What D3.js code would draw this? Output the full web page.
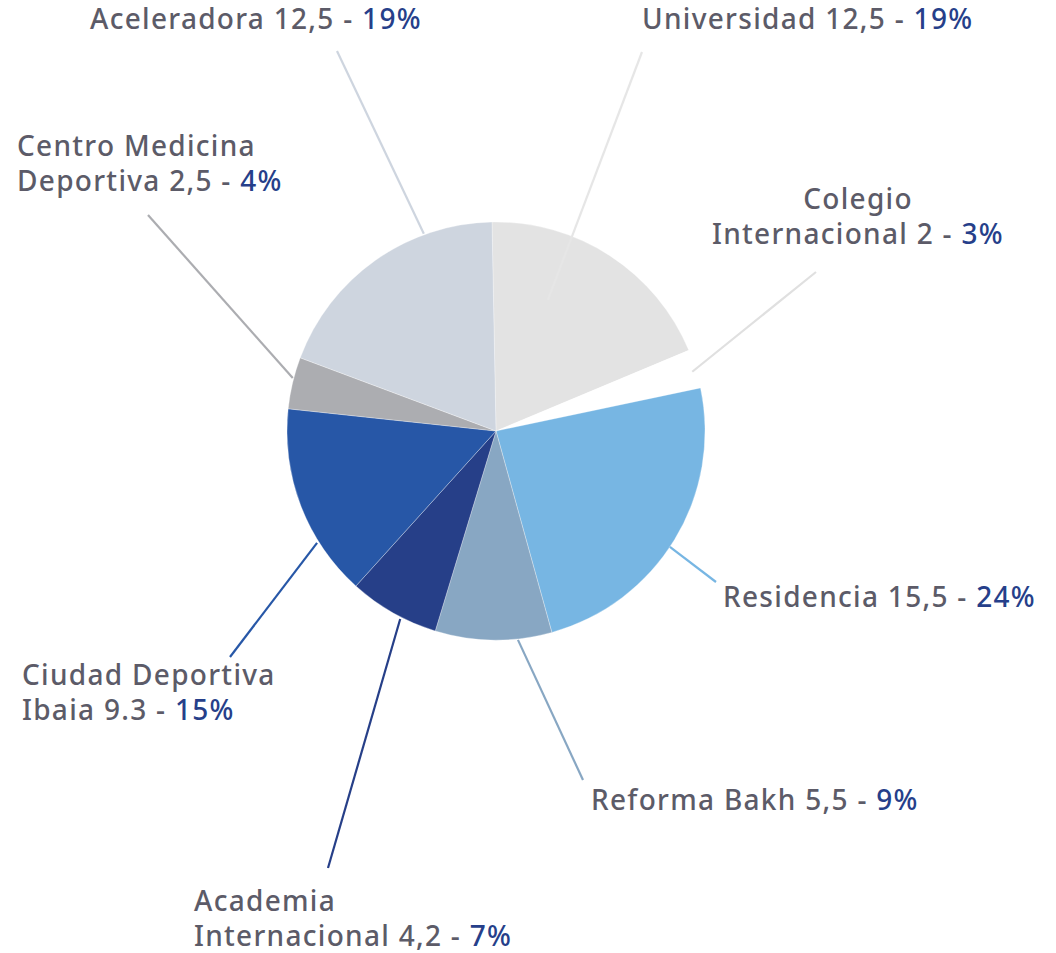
<!DOCTYPE html>
<html>
<head>
<meta charset="utf-8">
<script src="https://cdn.jsdelivr.net/npm/d3@7"></script>
<style>
  html, body { margin: 0; padding: 0; background: #ffffff; }
  svg { display: block; }
  .lbl { font-family: "Noto Sans", sans-serif; font-size: 28px; font-weight: 500; letter-spacing: 1.3px; fill: #5c5b68; }
  .pct { fill: #263f8a; }
</style>
</head>
<body>
<svg id="chart" width="1056" height="953"></svg>
<script>
// Slice names (label lines), raw amounts and their share in percent
const names = [
  ["Universidad"],
  ["Colegio", "Internacional"],
  ["Residencia"],
  ["Reforma Bakh"],
  ["Academia", "Internacional"],
  ["Ciudad Deportiva", "Ibaia"],
  ["Centro Medicina", "Deportiva"],
  ["Aceleradora"]
];
const amounts = ["12,5", "2", "15,5", "5,5", "4,2", "9.3", "2,5", "12,5"];
const percents = [19, 3, 24, 9, 7, 15, 4, 19];
const colors = ["#e3e3e3", "#ffffff", "#77b6e3", "#88a7c3", "#263f88", "#2757a7", "#acadb1", "#ced5df"];
const leaderColors = ["#e6e6e6", "#e0e0e0", "#77b6e3", "#88a7c3", "#263f88", "#2757a7", "#acadb1", "#ced5df"];

// Layout
const cx = 496, cy = 431, radius = 209;
const startDeg = -1.1;
// leader lines: inner end in polar form (deg clockwise from top, radius), outer end absolute
const leaders = [
  { a: 21.6, r: 141, x: 642, y: 52 },
  { a: 73.2, r: 205, x: 816, y: 272 },
  { a: 123.7, r: 209, x: 716, y: 582 },
  { a: 174, r: 210, x: 583, y: 780 },
  { a: 207, r: 211, x: 328, y: 868 },
  { a: 238, r: 211, x: 230, y: 657 },
  { a: 284.6, r: 210, x: 148, y: 215 },
  { a: 339.9, r: 210, x: 337, y: 51 }
];
// label anchors: x, first baseline, anchor
const labelPos = [
  { x: 642, y: 29, anchor: "start" },
  { x: 858, y: 209, anchor: "middle" },
  { x: 723, y: 607, anchor: "start" },
  { x: 591, y: 810, anchor: "start" },
  { x: 194, y: 911, anchor: "start" },
  { x: 22, y: 685, anchor: "start" },
  { x: 17, y: 156, anchor: "start" },
  { x: 90, y: 29, anchor: "start" }
];
const lineGap = 35;

const svg = d3.select("#chart");
const toRad = d => d * Math.PI / 180;

const pie = d3.pie()
  .value(d => d)
  .sort(null)
  .startAngle(toRad(startDeg))
  .endAngle(toRad(startDeg + 360));

const arc = d3.arc().innerRadius(0).outerRadius(radius);

const g = svg.append("g").attr("transform", `translate(${cx},${cy})`);

g.selectAll("path.slice")
  .data(pie(percents))
  .join("path")
  .attr("class", "slice")
  .attr("d", arc)
  .attr("fill", (d, i) => colors[i])
  .attr("stroke", "#ffffff")
  .attr("stroke-opacity", 0.5)
  .attr("stroke-width", 0.6);

// leader lines
svg.selectAll("line.leader")
  .data(leaders)
  .join("line")
  .attr("class", "leader")
  .attr("x1", d => cx + d.r * Math.sin(toRad(d.a)))
  .attr("y1", d => cy - d.r * Math.cos(toRad(d.a)))
  .attr("x2", d => d.x)
  .attr("y2", d => d.y)
  .attr("stroke", (d, i) => leaderColors[i])
  .attr("stroke-width", 2.2);

// labels
names.forEach((lines, i) => {
  const p = labelPos[i];
  const t = svg.append("text")
    .attr("class", "lbl")
    .attr("text-anchor", p.anchor);
  lines.forEach((ln, j) => {
    const last = j === lines.length - 1;
    t.append("tspan")
      .attr("x", p.x)
      .attr("y", p.y + j * lineGap)
      .text(last ? `${ln} ${amounts[i]} - ` : ln);
    if (last) {
      t.append("tspan").attr("class", "pct").text(`${percents[i]}%`);
    }
  });
});
</script>
</body>
</html>
